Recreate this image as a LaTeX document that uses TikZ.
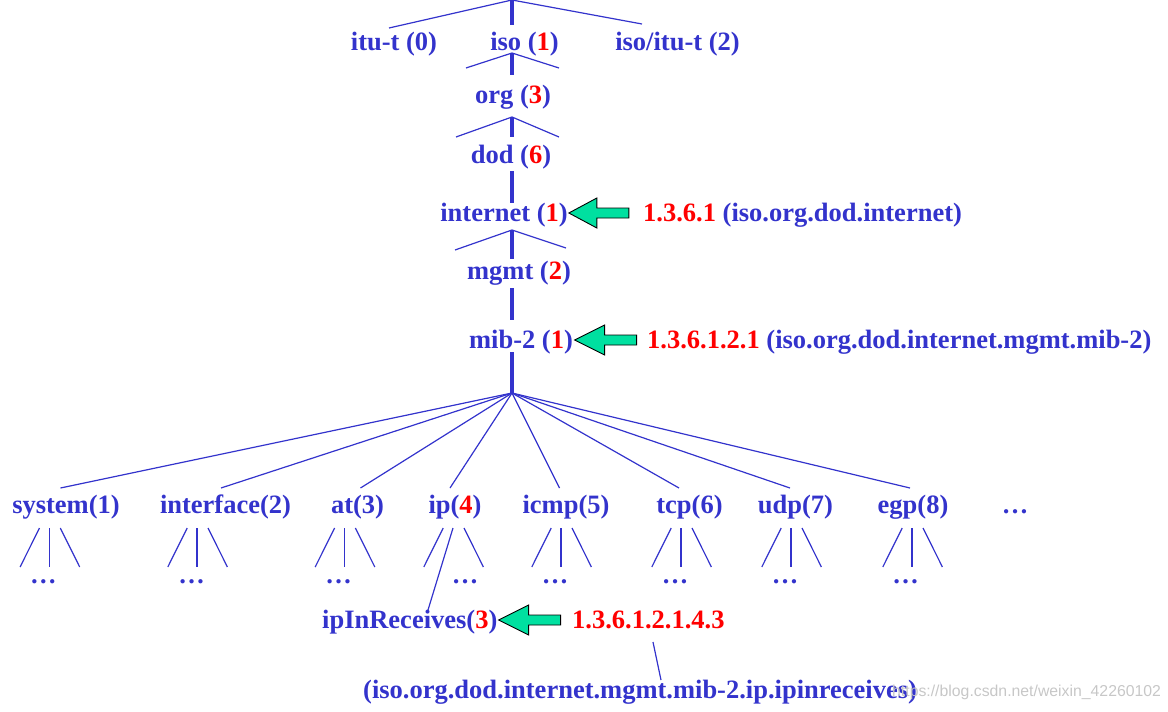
\documentclass[tikz,border=0pt]{standalone}
\usepackage{fontspec}
\setmainfont{Liberation Serif}
\newfontfamily\wmfont{Liberation Sans}
\definecolor{tb}{RGB}{51,51,204}
\definecolor{tr}{RGB}{255,0,0}
\definecolor{tg}{RGB}{0,224,160}
\newcommand\rd[1]{\textcolor{tr}{#1}}
\begin{document}
\begin{tikzpicture}[x=1pt,y=-1pt,
  lbl/.style={anchor=base,inner sep=0pt,text=tb,font=\fontsize{26.5}{30}\selectfont\bfseries},
  oid/.style={lbl,anchor=base west},
  trunk/.style={draw=tb,line width=3.8pt},
  twig/.style={draw=tb,line width=1.2pt},
  garrow/.style={draw=black,fill=tg,line width=0.9pt,line join=miter},
  wm/.style={anchor=base west,inner sep=0pt,text=black!22,font=\wmfont\fontsize{15.8}{18}\selectfont}]
\useasboundingbox (0,0) rectangle (1168,712);

% ---------- upper chain ----------
\node[lbl] (itut) at (394,50) {itu-t (0)};
\node[lbl] (iso) at (524.5,50) {iso (\rd{1})};
\node[lbl] (isoitut) at (677.5,50) {iso/itu-t (2)};
\node[lbl] (org) at (513,103) {org (\rd{3})};
\node[lbl] (dod) at (511,163) {dod (\rd{6})};
\node[lbl] (internet) at (504,221) {internet (\rd{1})};
\node[lbl] (mgmt) at (519,279) {mgmt (\rd{2})};
\node[lbl] (mib) at (521,348) {mib-2 (\rd{1})};

\node[oid] (oid1) at (643,221) {\rd{1.3.6.1} (iso.org.dod.internet)};
\node[oid] (oid2) at (647,348) {\rd{1.3.6.1.2.1} (iso.org.dod.internet.mgmt.mib-2)};

% trunk segments
\coordinate (r0) at (512,0);
\coordinate (r1) at (512,25);
\draw[trunk] (r0) -- (r1);
\coordinate (a1) at (512,53);
\coordinate (a2) at (512,75);
\draw[trunk] (a1) -- (a2);
\coordinate (b1) at (512,117);
\coordinate (b2) at (512,137);
\draw[trunk] (b1) -- (b2);
\coordinate (c1) at (512,171);
\coordinate (c2) at (512,203);
\draw[trunk] (c1) -- (c2);
\coordinate (d1) at (512,230);
\coordinate (d2) at (512,259);
\draw[trunk] (d1) -- (d2);
\coordinate (e1) at (512,288);
\coordinate (e2) at (512,320);
\draw[trunk] (e1) -- (e2);
\coordinate (f1) at (512,352);
\coordinate (fan) at (512,393);
\draw[trunk] (f1) -- (fan);

% fork stubs
\coordinate (t0l) at (389,28);
\coordinate (t0r) at (642,24);
\draw[twig] (t0l) -- (r0) -- (t0r);
\coordinate (t1l) at (466,68);
\coordinate (t1r) at (559,68);
\draw[twig] (t1l) -- (a1) -- (t1r);
\coordinate (t2l) at (456,137);
\coordinate (t2r) at (559,137);
\draw[twig] (t2l) -- (b1) -- (t2r);
\coordinate (t3l) at (455,250);
\coordinate (t3r) at (566,248);
\draw[twig] (t3l) -- (d1) -- (t3r);

% green arrows
\coordinate (tip1) at ([xshift=1pt]internet.east |- 0,213);
\draw[garrow] (tip1) -- ++(28,-15) -- ++(0,10) -- ++(32,0) -- ++(0,10) -- ++(-32,0) -- ++(0,10) -- cycle;
\coordinate (tip2) at ([xshift=1.5pt]mib.east |- 0,340);
\draw[garrow] (tip2) -- ++(30,-15) -- ++(0,10) -- ++(32,0) -- ++(0,10) -- ++(-32,0) -- ++(0,10) -- cycle;

% ---------- children of mib-2 ----------
\foreach \nm/\cx/\txt/\ex in {sys/66/system(1)/60.5, intf/225.5/interface(2)/221, at/357.5/at(3)/360.5, ip/455/ip(\rd{4})/450, icmp/566/icmp(5)/559.5, tcp/689.5/tcp(6)/679, udp/795.5/udp(7)/790, egp/913/egp(8)/910}{
  \node[lbl] (\nm) at (\cx,513) {\txt};
  \coordinate (\nm top) at (\ex,488);
  \draw[twig] (fan) -- (\nm top);
}
\node[lbl] (more) at (1015,513) {\dots};

% sub-forks with dots
\foreach \nm/\m in {sys/49.3, intf/197, at/344.4, ip/453, icmp/561, tcp/681, udp/791, egp/912}{
  \coordinate (\nm L1) at (\m-9.8,528);
  \coordinate (\nm L2) at (\m-29.2,567);
  \coordinate (\nm R1) at (\m+11,528);
  \coordinate (\nm R2) at (\m+30.4,567);
  \draw[twig] (\nm L1) -- (\nm L2);
  \draw[twig] (\nm R1) -- (\nm R2);
}
\foreach \nm/\m in {sys/49.3, intf/197, at/344.4, icmp/561, tcp/681, udp/791, egp/912}{
  \coordinate (\nm M1) at (\m,528);
  \coordinate (\nm M2) at (\m,567);
  \draw[twig] (\nm M1) -- (\nm M2);
}
\foreach \nm/\d in {sys/43.3, intf/191.5, at/338.5, ip/465, icmp/555, tcp/675, udp/785, egp/905.5}{
  \node[lbl] (\nm dots) at (\d,583) {\dots};
}

% ---------- ipInReceives ----------
\node[lbl,anchor=base west] (ipin) at (322,628) {ipInReceives(\rd{3})};
\node[oid] (oid3) at (572,628) {\rd{1.3.6.1.2.1.4.3}};
\node[oid] (oid3t) at (363,698) {(iso.org.dod.internet.mgmt.mib-2.ip.ipinreceives)};
\coordinate (ipM1) at (453,528);
\coordinate (ipinTop) at (428,610);
\draw[twig] (ipM1) -- (ipinTop);
\coordinate (oid3a) at (653,642);
\coordinate (oid3b) at (661,680);
\draw[twig] (oid3a) -- (oid3b);
\coordinate (tip3) at ([xshift=1pt]ipin.east |- 0,620);
\draw[garrow] (tip3) -- ++(30,-15) -- ++(0,10) -- ++(32,0) -- ++(0,10) -- ++(-32,0) -- ++(0,10) -- cycle;

% watermark
\node[wm] (wmark) at (892,696) {https://blog.csdn.net/weixin\_42260102};
\end{tikzpicture}
\end{document}
